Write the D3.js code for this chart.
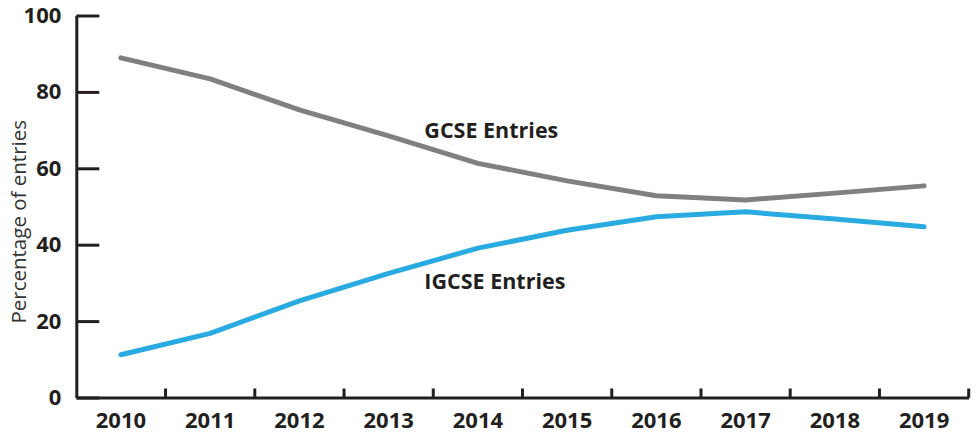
<!DOCTYPE html>
<html>
<head>
<meta charset="utf-8">
<script src="https://cdn.jsdelivr.net/npm/d3@7"></script>
<style>
  body { margin: 0; background: #fff; }
  svg { display: block; }
</style>
</head>
<body>
<div id="chart"></div>
<script>
(function () {
    var width = 977, height = 433;

    // data
    var years = ["2010", "2011", "2012", "2013", "2014", "2015", "2016", "2017", "2018", "2019"];
    var gcse = [88.9, 83.4, 75.3, 68.5, 61.3, 56.7, 52.8, 51.7, 53.5, 55.4];
    var igcse = [11.2, 16.8, 25.3, 32.5, 39.1, 43.8, 47.3, 48.6, 46.7, 44.7];
    var yTicks = [0, 20, 40, 60, 80, 100];

    var seriesNames = ["GCSE Entries", "IGCSE Entries"];
    var seriesColors = ["#808083", "#29abe2"];
    // label anchors: year band + value
    var labelYears = ["2013", "2013"];
    var labelValues = [70, 30.5];

    var ink = "#231f20";

    var svg = d3.select("#chart")
        .append("svg")
        .attr("width", width)
        .attr("height", height);

    var x = d3.scaleBand()
        .domain(years)
        .range([76.3, 968.7]);

    var y = d3.scaleLinear()
        .domain([0, 100])
        .range([397.5, 15.5]);

    var line = d3.line()
        .x(d => x(d.year) + x.bandwidth() / 2)
        .y(d => y(d.value));

    var series = [gcse, igcse].map(function (vals, i) {
        return {
            name: seriesNames[i],
            color: seriesColors[i],
            values: vals.map((v, j) => ({ year: years[j], value: v }))
        };
    });

    // y axis, ticks point inward
    var yAxis = svg.append("g")
        .attr("transform", "translate(" + x.range()[0] + ",0)")
        .call(d3.axisLeft(y).tickValues(yTicks).tickSizeInner(-23).tickSizeOuter(0).tickPadding(15));

    yAxis.select(".domain").attr("stroke", ink).attr("stroke-width", 3);
    yAxis.selectAll(".tick line").attr("stroke", ink).attr("stroke-width", 3);
    yAxis.selectAll(".tick text")
        .attr("fill", ink)
        .style("font-family", "'Open Sans', sans-serif")
        .style("font-weight", "bold")
        .style("font-size", "22px");

    // x axis: labels at band centres, ticks on band edges
    var xAxis = svg.append("g")
        .attr("transform", "translate(0," + y(0) + ")")
        .call(d3.axisBottom(x).tickSize(0).tickPadding(0));

    xAxis.select(".domain").attr("stroke", ink).attr("stroke-width", 3);
    xAxis.selectAll(".tick text")
        .attr("fill", ink)
        .attr("y", 23)
        .attr("dy", "0.35em")
        .style("font-family", "'Open Sans', sans-serif")
        .style("font-weight", "bold")
        .style("font-size", "22px");

    xAxis.selectAll("line.edge")
        .data(years)
        .join("line")
        .attr("class", "edge")
        .attr("x1", d => x(d) + x.bandwidth())
        .attr("x2", d => x(d) + x.bandwidth())
        .attr("y1", 0)
        .attr("y2", -9)
        .attr("stroke", ink)
        .attr("stroke-width", 3);

    // y axis title
    svg.append("text")
        .attr("transform", "translate(19," + y(46) + ") rotate(-90)")
        .attr("text-anchor", "middle")
        .attr("dy", "0.35em")
        .attr("fill", "#333")
        .style("font-family", "'Open Sans', sans-serif")
        .style("font-size", "20.5px")
        .text("Percentage of entries");

    // lines
    svg.append("g")
        .selectAll("path")
        .data(series)
        .join("path")
        .attr("fill", "none")
        .attr("stroke", d => d.color)
        .attr("stroke-width", 5)
        .attr("stroke-linecap", "round")
        .attr("stroke-linejoin", "round")
        .attr("d", d => line(d.values));

    // series labels
    svg.append("g")
        .selectAll("text")
        .data(seriesNames)
        .join("text")
        .attr("x", (d, i) => x(labelYears[i]) + x.bandwidth() * 0.9)
        .attr("y", (d, i) => y(labelValues[i]))
        .attr("dy", "0.35em")
        .attr("fill", ink)
        .style("font-family", "'Open Sans', sans-serif")
        .style("font-weight", "bold")
        .style("font-size", "21.5px")
        .text(d => d);
})();
</script>
</body>
</html>
